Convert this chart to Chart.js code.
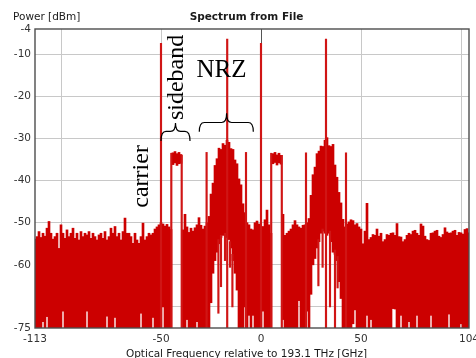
<!DOCTYPE html>
<html>
<head>
<meta charset="utf-8">
<title>Spectrum from File</title>
<script src="https://cdn.jsdelivr.net/npm/chart.js@4.4.1/dist/chart.umd.min.js"></script>
<style>
  html, body { margin: 0; padding: 0; background: #fff; }
  canvas { display: block; }
</style>
</head>
<body>
<canvas id="spectrumChart" width="476" height="358"></canvas>
<script>
// Spectrum bins, 1 GHz wide, relative to 193.1 THz
const freqGHz = [
  -113,-112,-111,-110,-109,-108,-107,-106,-105,-104,
  -103,-102,-101,-100,-99,-98,-97,-96,-95,-94,
  -93,-92,-91,-90,-89,-88,-87,-86,-85,-84,
  -83,-82,-81,-80,-79,-78,-77,-76,-75,-74,
  -73,-72,-71,-70,-69,-68,-67,-66,-65,-64,
  -63,-62,-61,-60,-59,-58,-57,-56,-55,-54,
  -53,-52,-51,-50,-49,-48,-47,-46,-45,
  -44,-43,-42,-41,-40,
  -39,-38,-37,-36,-35,-34,-33,-32,-31,-30,-29,-28,-27,
  -26,-25,-24,-23,-22,-21,-20,-19,-18,-17,-16,-15,-14,-13,-12,-11,-10,-9,-8,
  -7,-6,-5,-4,-3,-2,-1,0,1,2,3,4,5,
  6,7,8,9,10,
  11,12,13,14,15,16,17,18,19,20,21,22,23,
  24,25,26,27,28,29,30,31,32,33,34,35,36,37,38,39,40,41,42,
  43,44,45,46,47,48,49,50,51,52,
  53,54,55,56,57,58,59,60,61,62,
  63,64,65,66,67,68,69,70,71,72,
  73,74,75,76,77,78,79,80,81,82,
  83,84,85,86,87,88,89,90,91,92,
  93,94,95,96,97,98,99,100,101,102,
  103,104
];

// upper edge of the trace in each bin [dBm]
const powerTop = [
  -53.9,-53.3,-52.1,-53.5,-52.5,-53.2,-51.3,-49.7,-52.5,-53.9,
  -53.3,-52.5,-56.1,-50.5,-52.5,-53.7,-51.7,-53.3,-52.5,-51.3,
  -53.7,-52.5,-54.1,-52.1,-53.3,-52.5,-52.9,-52.1,-53.7,-52.5,
  -53.3,-54.1,-52.9,-52.5,-53.7,-52.1,-54.1,-53.3,-51.3,-52.5,
  -50.9,-53.3,-52.5,-54.1,-52.1,-48.9,-52.5,-52.5,-53.3,-54.9,
  -52.5,-54.1,-54.9,-53.3,-50.1,-54.1,-53.3,-52.5,-52.9,-52.5,
  -51.5,-51,-50.5,-50,-50.3,-50.8,-50.4,-51,-51.6,
  -33.4,-33.1,-33.6,-33.3,-33.8,
  -51.7,-48,-51,-52.3,-51.3,-52,-51.2,-50.5,-48.8,-50.6,-51.5,-50.8,-50,
  -48.5,-43.2,-40.6,-36.4,-34.8,-32.3,-32.6,-31.2,-31.6,-30.4,-30.9,-32.4,-32.6,-35.1,-36,-39.6,-41,-45.5,-47.6,
  -50,-50.5,-51.5,-51.7,-50,-49.6,-50.3,-51,-50.9,-49.3,-47,-50.5,-52.5,
  -33.6,-33.3,-33.9,-33.5,-34,
  -48,-53,-52.5,-52,-51.5,-50.5,-49.5,-50.5,-51,-51.3,-50.6,-50.5,-50,
  -49,-43.5,-38.6,-36.8,-33.6,-33,-31.8,-31.9,-30.4,-29.8,-31.7,-31.9,-31.4,-36.3,-39.2,-42.8,-45.3,-49.2,-51,
  -50.3,-49.8,-49.3,-49.5,-50.5,-50.2,-51,-51.5,-55,-52,
  -45.4,-54,-53.5,-52.8,-53,-51.5,-53.2,-52.5,-54.5,-54,
  -52.8,-53,-52.5,-52.4,-53,-50.2,-53.3,-53.4,-54.5,-54,
  -53,-52.5,-52.8,-52,-51.8,-52.5,-53,-50.3,-50.8,-53.2,
  -54,-54.2,-52.5,-52.4,-52,-51.8,-53.2,-53.5,-52.8,-51.2,
  -52.2,-52.5,-52.4,-52,-51.8,-53,-52.3,-52.4,-52.7,-51.6,
  -51.4,-52.4
];

// lower edge of the trace in each bin [dBm]
const powerBottom = [
  -75,-75,-75,-75,-73.5,-75,-72.3,-75,-75,-75,
  -75,-75,-75,-75,-71,-75,-75,-75,-75,-75,
  -75,-75,-75,-75,-75,-75,-71,-75,-75,-75,
  -75,-75,-75,-75,-75,-75,-72.2,-75,-75,-75,
  -72.5,-75,-75,-75,-75,-75,-75,-75,-75,-75,
  -75,-75,-75,-71.5,-75,-75,-75,-75,-75,-72.5,
  -75,-75,-75,-75,-70,-75,-75,-75,-75,
  -36.2,-35.8,-36.4,-36,-35.9,
  -75,-75,-73,-75,-75,-75,-75,-73.5,-75,-75,-75,-75,-75,
  -75,-69,-62,-59,-57,-55,-53.5,-53,-53,-53.5,-54,-56,-59,-62,-66,-75,-75,-75,-70,
  -75,-72,-75,-72,-75,-75,-75,-75,-71,-75,-75,-75,-75,
  -36,-35.7,-36.3,-35.8,-36.1,
  -73,-75,-75,-75,-75,-75,-75,-75,-68.5,-75,-75,-75,-71,
  -75,-67,-60,-58.5,-56,-54.5,-52.5,-52,-52.5,-53,-52.5,-54.5,-57,-57.5,-59,-64,-68,-75,-75,
  -75,-75,-75,-74,-70.7,-75,-75,-75,-75,-75,
  -72,-75,-73,-75,-75,-75,-75,-75,-75,-75,
  -75,-75,-75,-70.4,-70.5,-75,-75,-72,-75,-75,
  -75,-73.5,-75,-75,-75,-72,-75,-75,-75,-75,
  -75,-75,-72,-75,-75,-75,-75,-75,-75,-75,
  -75,-71.7,-75,-75,-75,-75,-75,-74,-75,-75,
  -75,-75
];

// narrow lines: carriers, NRZ tones, clock tones, sideband edges, streaks
const lineFreq   = [-50, -16.9, 0, 32.5, -27.2, -7.5, 22.5, 42.5, -44.85, -39.65, 5.1, 10.4, -21.3, -20, -18, -15.5, -14.3, 28.7, 30.8, 34.5, 37, 38.3];
const lineTop    = [-7.4, -6.4, -7.4, -6.4, -33.3, -33.3, -33.4, -33.4, -33.5, -34, -33.5, -34, -54, -53, -52.5, -54.5, -57.5, -54, -51.5, -52, -56.5, -58];
const lineBottom = [-75, -75, -75, -75, -75, -75, -75, -75, -75, -75, -75, -75, -71.5, -65.2, -59, -60.6, -70, -65, -60.6, -70, -75, -65.5];

const xTickValues = [-113, -100, -50, 0, 50, 100, 104];
const xTickLabels = [-113, -50, 0, 50, 104];
const yTickValues = [-75, -70, -60, -50, -40, -30, -20, -10, -4];
const yTickLabels = [-75, -60, -50, -40, -30, -20, -10, -4];

const tickFont = { family: "'DejaVu Sans', sans-serif", size: 10.5 };

// annotation texts and braces, in data coordinates
const notes = [
  { text: "carrier",  x: -56.5, y: -39,   rotate: true },
  { text: "sideband", x: -39,   y: -15.5, rotate: true },
  { text: "NRZ",      x: -19.75, y: -15.4, rotate: false, size: 25 }
];
const braces = [
  { from: -50,    to: -35.5, mid: -42.75, tip: -30.6, body: -28.3, cusp: -26.3 },
  { from: -30.85, to: -3.85, mid: -17.2,  tip: -28.4, body: -26.2, cusp: -24 }
];

function drawBrace(ctx, x1, x2, xm, yTip, yBody, yCusp) {
  const r = 5;
  ctx.beginPath();
  ctx.moveTo(x1, yTip);
  ctx.quadraticCurveTo(x1, yBody, x1 + r, yBody);
  ctx.lineTo(xm - r, yBody);
  ctx.quadraticCurveTo(xm, yBody, xm, yCusp);
  ctx.quadraticCurveTo(xm, yBody, xm + r, yBody);
  ctx.lineTo(x2 - r, yBody);
  ctx.quadraticCurveTo(x2, yBody, x2, yTip);
  ctx.stroke();
}

const decorPlugin = {
  id: "decor",
  afterDatasetsDraw(chart) {
    const { ctx, chartArea: a, scales: { x, y } } = chart;
    ctx.save();
    // plot frame
    ctx.strokeStyle = "#4d4d4d";
    ctx.lineWidth = 1.4;
    ctx.strokeRect(a.left, a.top, a.right - a.left, a.bottom - a.top);

    // braces
    ctx.strokeStyle = "#000";
    ctx.lineWidth = 1.2;
    braces.forEach(b => {
      drawBrace(ctx, x.getPixelForValue(b.from), x.getPixelForValue(b.to), x.getPixelForValue(b.mid),
        y.getPixelForValue(b.tip), y.getPixelForValue(b.body), y.getPixelForValue(b.cusp));
    });

    // annotation text
    ctx.fillStyle = "#000";
    notes.forEach(n => {
      ctx.save();
      ctx.font = (n.size || 24) + "px 'Liberation Serif', serif";
      ctx.textAlign = "center";
      ctx.textBaseline = "alphabetic";
      ctx.translate(x.getPixelForValue(n.x), y.getPixelForValue(n.y));
      if (n.rotate) ctx.rotate(-Math.PI / 2);
      ctx.fillText(n.text, 0, 0);
      ctx.restore();
    });
    ctx.restore();
  },
  afterDraw(chart) {
    const { ctx } = chart;
    ctx.save();
    ctx.fillStyle = "#1a1a1a";
    ctx.textBaseline = "alphabetic";
    ctx.font = "bold 10.5px 'DejaVu Sans', sans-serif";
    ctx.textAlign = "center";
    ctx.fillText("Spectrum from File", 246.5, 20);
    ctx.font = "10.5px 'DejaVu Sans', sans-serif";
    ctx.textAlign = "left";
    ctx.fillText("Power [dBm]", 13, 20);
    ctx.textAlign = "center";
    ctx.fillText("Optical Frequency relative to 193.1 THz [GHz]", 246.5, 356.5);
    ctx.restore();
  }
};

const ctx = document.getElementById("spectrumChart").getContext("2d");

new Chart(ctx, {
  type: "bar",
  data: {
    datasets: [
      {
        label: "Lines",
        data: lineFreq.map((f, i) => ({ x: f, y: [lineBottom[i], lineTop[i]] })),
        backgroundColor: "#d01515",
        borderWidth: 0,
        barThickness: 1.5,
        grouped: false
      },
      {
        label: "Spectrum",
        data: freqGHz.map((f, i) => ({ x: f, y: [powerBottom[i], powerTop[i]] })),
        backgroundColor: "#cc0000",
        borderWidth: 0,
        barThickness: 2,
        grouped: false
      }
    ]
  },
  options: {
    responsive: false,
    animation: false,
    layout: { padding: { top: 29, right: 7, left: 0, bottom: 0 } },
    plugins: {
      legend: { display: false },
      tooltip: { enabled: false },
      title: { display: false }
    },
    scales: {
      x: {
        type: "linear",
        min: -113,
        max: 104,
        offset: false,
        afterBuildTicks: scale => { scale.ticks = xTickValues.map(v => ({ value: v })); },
        afterFit: scale => { scale.height = 30; scale.paddingLeft = 0; scale.paddingRight = 0; },
        ticks: {
          autoSkip: false,
          maxRotation: 0,
          padding: 5,
          font: tickFont,
          color: "#333",
          callback: v => xTickLabels.includes(v) ? String(v) : ""
        },
        grid: {
          offset: false,
          drawTicks: false,
          color: c => {
            const v = c.tick ? c.tick.value : null;
            if (v === -113 || v === 104) return "rgba(0,0,0,0)";
            if (v === 0) return "#555";
            return "#c8c8c8";
          }
        },
        border: { display: false }
      },
      y: {
        type: "linear",
        min: -75,
        max: -4,
        afterBuildTicks: scale => { scale.ticks = yTickValues.map(v => ({ value: v })); },
        afterFit: scale => { scale.width = 35; scale.paddingTop = 0; scale.paddingBottom = 0; },
        ticks: {
          autoSkip: false,
          padding: 4,
          font: tickFont,
          color: "#333",
          callback: v => yTickLabels.includes(v) ? String(v) : ""
        },
        grid: {
          drawTicks: false,
          color: c => {
            const v = c.tick ? c.tick.value : null;
            if (v === -75 || v === -4) return "rgba(0,0,0,0)";
            return "#c8c8c8";
          }
        },
        border: { display: false }
      }
    }
  },
  plugins: [decorPlugin]
});
</script>
</body>
</html>
